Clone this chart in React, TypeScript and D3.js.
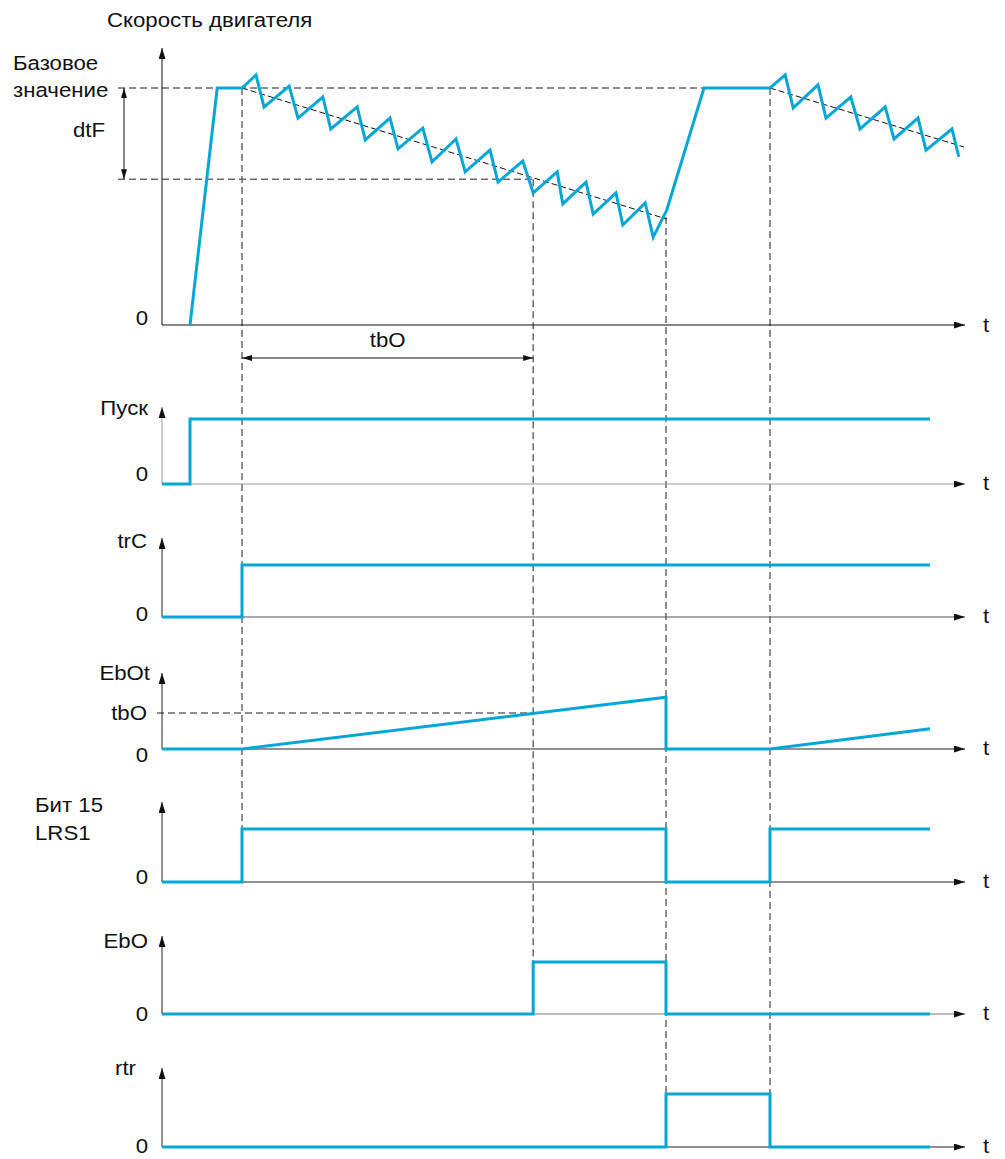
import React from 'react';
import * as d3 from 'd3';

// ---------- data ----------
// time units (arbitrary), speed in % of base value
const speedT = [3.5, 6.9, 10, 11.75, 12.75, 15.9, 17, 20.1, 21.1, 24.4, 25.4, 28.5, 29.5, 32.6, 33.75, 36.75, 37.9, 41, 42, 45.1, 46.4, 49.4, 50.1, 53, 53.9, 56.75, 57.6, 60.4, 61.4, 63.1, 67.75, 76, 77.9, 78.9, 82, 83, 86.1, 87.25, 90.4, 91.5, 94.5, 95.5, 98.75, 99.6];
const speedV = [0, 100, 100, 105.5, 92, 100.8, 87.3, 96.2, 82.7, 92, 78.1, 87.3, 74.3, 83.1, 68.8, 78.5, 64.6, 73.8, 60.3, 69.2, 55.7, 64.6, 51.1, 60.3, 46.8, 55.7, 42.2, 51.5, 37.1, 48.5, 100, 100, 105.5, 91.6, 101.3, 87.3, 96.2, 82.7, 92, 78.5, 87.3, 73.8, 82.7, 70.9];
const trend1T = [10, 63.1];
const trend1V = [100, 44.7];
const trend2T = [76, 100.25];
const trend2V = [100, 75.1];
const baseValue = 100;
const dtFLevel = 61.5;

const eventTimes = [10, 46.4, 63, 76];

const puskT = [0, 3.5, 3.5, 96];
const puskV = [0, 0, 1, 1];
const trcT = [0, 10, 10, 96];
const trcV = [0, 0, 1, 1];
const ebotT = [0, 10, 63, 63, 76, 96];
const ebotV = [0, 0, 1.44, 0, 0, 0.56];
const tbOLevel = 1;
const lrsT = [0, 10, 10, 63, 63, 76, 76, 96];
const lrsV = [0, 0, 1, 1, 0, 0, 1, 1];
const eboT = [0, 46.4, 46.4, 63, 63, 96];
const eboV = [0, 0, 1, 1, 0, 0];
const rtrT = [0, 63, 63, 76, 76, 96];
const rtrV = [0, 0, 1, 1, 0, 0];

// ---------- layout ----------
const BLUE = '#06a6d6';
const FONT = '"Liberation Sans", Arial, sans-serif';
const FS = 19.5;
const SX = 1.14;
const X0 = 162;
const xScale = d3.scaleLinear().domain([0, 100]).range([X0, 962]);
const AXIS_END = 965;

const ySpeed = d3.scaleLinear().domain([0, 100]).range([325, 88]);

type Panel = { key: string; t: number[]; v: number[]; zero: number; one: number; top: number; axisColor: string; hColor: string };

const panels: Panel[] = [
  { key: 'pusk', t: puskT, v: puskV, zero: 484, one: 419, top: 407, axisColor: '#9a9a9a', hColor: '#9a9a9a' },
  { key: 'trc', t: trcT, v: trcV, zero: 617, one: 565, top: 538, axisColor: '#222', hColor: '#555' },
  { key: 'ebot', t: ebotT, v: ebotV, zero: 749, one: 713, top: 673, axisColor: '#222', hColor: '#222' },
  { key: 'lrs', t: lrsT, v: lrsV, zero: 882, one: 829, top: 802, axisColor: '#222', hColor: '#222' },
  { key: 'ebo', t: eboT, v: eboV, zero: 1014, one: 962, top: 936, axisColor: '#222', hColor: '#777' },
  { key: 'rtr', t: rtrT, v: rtrV, zero: 1147, one: 1094, top: 1068, axisColor: '#222', hColor: '#222' },
];

const panelY = (p: Panel) => d3.scaleLinear().domain([0, 1]).range([p.zero, p.one]);

function Txt({ x, y, anchor = 'start', children }: { x: number; y: number; anchor?: string; children: React.ReactNode }) {
  return (
    <text transform={`translate(${x},${y}) scale(${SX},1)`} textAnchor={anchor} fontFamily={FONT} fontSize={FS} fill="#111">
      {children}
    </text>
  );
}

export default function App() {
  const speedLine = d3.line<number>().x((_, i) => xScale(speedT[i])).y((_, i) => ySpeed(speedV[i]));
  const trend = (T: number[], V: number[]) => d3.line<number>().x((_, i) => xScale(T[i])).y((_, i) => ySpeed(V[i]))(T) || '';

  const dashGrey = { stroke: '#6a6a6a', strokeWidth: 1.5, strokeDasharray: '7,4', fill: 'none' } as const;

  // vertical dashed guides: from top y to bottom y
  const guides = [
    { t: eventTimes[0], y1: ySpeed(baseValue), y2: panels[3].zero },
    { t: eventTimes[1], y1: ySpeed(dtFLevel), y2: panels[4].zero },
    { t: eventTimes[2], y1: ySpeed(trend1V[1]) - 2, y2: panels[5].zero },
    { t: eventTimes[3], y1: ySpeed(baseValue), y2: panels[5].zero },
  ];

  const zeroLabelOffset: Record<string, number> = { pusk: -3, trc: 4, ebot: 13, lrs: 2, ebo: 7, rtr: 6 };

  return (
    <svg width={1005} height={1159} style={{ position: 'absolute', left: 0, top: 0, background: '#fff' }}>
      <defs>
        <marker id="arr" viewBox="0 0 10 10" refX={10} refY={5} markerWidth={11} markerHeight={7} markerUnits="userSpaceOnUse" orient="auto" preserveAspectRatio="none">
          <path d="M0,0 L10,5 L0,10 z" fill="#111" />
        </marker>
        <marker id="arrGrey" viewBox="0 0 10 10" refX={10} refY={5} markerWidth={11} markerHeight={7} markerUnits="userSpaceOnUse" orient="auto" preserveAspectRatio="none">
          <path d="M0,0 L10,5 L0,10 z" fill="#111" />
        </marker>
        <marker id="dim" viewBox="0 0 10 10" refX={10} refY={5} markerWidth={10} markerHeight={6} markerUnits="userSpaceOnUse" orient="auto-start-reverse" preserveAspectRatio="none">
          <path d="M0,0 L10,5 L0,10 z" fill="#111" />
        </marker>
      </defs>

      {/* ---------- speed panel ---------- */}
      <Txt x={107} y={27}>Скорость двигателя</Txt>
      <Txt x={13} y={70}>Базовое</Txt>
      <Txt x={13} y={97}>значение</Txt>
      <Txt x={73} y={137}>dtF</Txt>
      <Txt x={148} y={325} anchor="end">0</Txt>
      <Txt x={983} y={332}>t</Txt>

      {/* reference dashed lines */}
      <line x1={118} x2={xScale(eventTimes[3])} y1={ySpeed(baseValue)} y2={ySpeed(baseValue)} {...dashGrey} />
      <line x1={118} x2={xScale(eventTimes[1])} y1={ySpeed(dtFLevel)} y2={ySpeed(dtFLevel)} {...dashGrey} />

      {/* dtF dimension arrow */}
      <line x1={124} x2={124} y1={ySpeed(baseValue)} y2={ySpeed(dtFLevel)} stroke="#111" strokeWidth={1} markerStart="url(#dim)" markerEnd="url(#dim)" />

      {/* vertical guides */}
      {guides.map((g, i) => (
        <line key={i} x1={xScale(g.t)} x2={xScale(g.t)} y1={g.y1} y2={g.y2} {...dashGrey} />
      ))}

      {/* axes */}
      <line x1={X0} x2={X0} y1={325} y2={48} stroke="#111" strokeWidth={1} markerEnd="url(#arr)" />
      <line x1={X0} x2={AXIS_END} y1={325} y2={325} stroke="#111" strokeWidth={1} markerEnd="url(#arr)" />

      {/* trend lines */}
      <path d={trend(trend1T, trend1V)} stroke="#111" strokeWidth={1} strokeDasharray="6,3" fill="none" />
      <path d={trend(trend2T, trend2V)} stroke="#111" strokeWidth={1} strokeDasharray="6,3" fill="none" />

      {/* speed */}
      <path d={speedLine(speedT) || ''} stroke={BLUE} strokeWidth={3} fill="none" strokeLinejoin="miter" />

      {/* tbO dimension */}
      <line x1={xScale(eventTimes[0])} x2={xScale(eventTimes[1])} y1={358} y2={358} stroke="#111" strokeWidth={1} markerStart="url(#dim)" markerEnd="url(#dim)" />
      <Txt x={(xScale(eventTimes[0]) + xScale(eventTimes[1])) / 2} y={347} anchor="middle">tbO</Txt>

      {/* ---------- signal panels ---------- */}
      <Txt x={148} y={415} anchor="end">Пуск</Txt>
      <Txt x={147} y={548} anchor="end">trC</Txt>
      <Txt x={150} y={680} anchor="end">EbOt</Txt>
      <Txt x={147} y={720} anchor="end">tbO</Txt>
      <Txt x={35} y={812}>Бит 15</Txt>
      <Txt x={35} y={840}>LRS1</Txt>
      <Txt x={148} y={948} anchor="end">EbO</Txt>
      <Txt x={136} y={1075} anchor="end">rtr</Txt>

      {/* tbO level dashed in EbOt panel */}
      <line x1={157} x2={xScale(eventTimes[1])} y1={panelY(panels[2])(tbOLevel)} y2={panelY(panels[2])(tbOLevel)} {...dashGrey} />

      {panels.map((p) => {
        const ys = panelY(p);
        const line = d3.line<number>().x((_, i) => xScale(p.t[i])).y((_, i) => ys(p.v[i]));
        return (
          <g key={p.key}>
            <line x1={X0} x2={X0} y1={p.zero} y2={p.top} stroke={p.axisColor} strokeWidth={1} markerEnd="url(#arr)" />
            <line x1={X0} x2={AXIS_END} y1={p.zero} y2={p.zero} stroke={p.hColor} strokeWidth={1} markerEnd="url(#arr)" />
            <Txt x={148} y={p.zero + zeroLabelOffset[p.key]} anchor="end">0</Txt>
            <Txt x={983} y={p.zero + 6}>t</Txt>
            <path d={line(p.t) || ''} stroke={BLUE} strokeWidth={3} fill="none" strokeLinejoin="miter" />
          </g>
        );
      })}
    </svg>
  );
}
